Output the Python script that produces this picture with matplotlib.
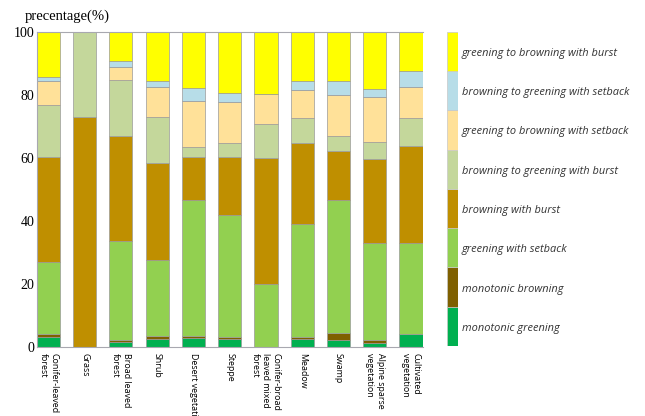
import numpy as np
import matplotlib
matplotlib.use("Agg")
import matplotlib.pyplot as plt

categories = ["Conifer-leaved\nforest", "Grass", "Broad leaved\nforest", "Shrub",
              "Desert vegetation", "Steppe", "Conifer-broad\nleaved mixed\nforest",
              "Meadow", "Swamp", "Alpine sparse\nvegetation", "Cultivated\nvegetation"]

# bottom to top of each stack
mono_greening = [3.0, 0.0, 1.3, 2.5, 2.6, 2.3, 0.0, 2.4, 2.2, 1.0, 4.0]
mono_browning = [0.9, 0.0, 0.7, 0.8, 0.8, 0.8, 0.0, 0.7, 2.2, 1.1, 0.0]
greening_setback = [22.9, 0.0, 31.7, 24.3, 43.3, 38.8, 19.9, 35.9, 42.3, 30.9, 29.0]
browning_burst = [33.5, 72.9, 33.2, 30.7, 13.6, 18.5, 40.2, 25.9, 15.6, 26.7, 30.9]
b2g_burst = [16.5, 27.1, 17.8, 14.8, 3.2, 4.3, 10.7, 7.8, 4.6, 5.3, 8.7]
g2b_setback = [7.7, 0.0, 4.2, 9.4, 14.6, 13.0, 9.6, 8.8, 13.1, 14.3, 10.0]
b2g_setback = [1.2, 0.0, 2.0, 2.0, 4.1, 2.9, 0.0, 3.0, 4.6, 2.6, 5.1]
g2b_burst = [14.3, 0.0, 9.1, 15.5, 17.8, 19.4, 19.6, 15.5, 15.4, 18.1, 12.3]

series = [mono_greening, mono_browning, greening_setback, browning_burst,
          b2g_burst, g2b_setback, b2g_setback, g2b_burst]
names = ["monotonic greening", "monotonic browning", "greening with setback",
         "browning with burst", "browning to greening with burst",
         "greening to browning with setback", "browning to greening with setback",
         "greening to browning with burst"]
colors = ["#00B050", "#7F6000", "#92D050", "#BF8F00", "#C4D79B",
          "#FFE199", "#B7DDE8", "#FFFF00"]

W, H = 645, 416
fig = plt.figure(figsize=(W / 100, H / 100), dpi=100)
ax = fig.add_axes([36.7 / W, (H - 346.5) / H, (422.7 - 36.7) / W, (346.5 - 32.3) / H])

x = np.arange(len(categories))
width = 0.64
bottom = np.zeros(len(categories))
for vals, c in zip(series, colors):
    ax.bar(x, vals, width, bottom=bottom, color=c, edgecolor="#9a9a9a", linewidth=0.5)
    bottom += np.array(vals)

ax.set_xlim(-width / 2, len(categories) - 1 + width / 2)
ax.set_ylim(0, 100)
ax.set_yticks([0, 20, 40, 60, 80, 100])
ax.set_xticks(x)
ax.set_xticklabels(categories, rotation=-90, ha="center", va="top",
                   fontsize=6.4, family="Open Sans", multialignment="left")
for lab in ax.get_yticklabels():
    lab.set_family("Liberation Serif")
    lab.set_fontsize(10)
ax.tick_params(axis="x", length=0, pad=5)
ax.tick_params(axis="y", length=0, pad=1.5)
for s in ax.spines.values():
    s.set_color("#a8a8b0")
    s.set_linewidth(0.8)
ax.spines["right"].set_visible(False)
fig.text(25 / W, 1 - 16 / H, "precentage(%)", family="Liberation Serif",
         fontsize=10.5, va="center", ha="left")

# legend drawn as stacked colour blocks
lax = fig.add_axes([446.7 / W, (H - 346) / H, 11 / W, (346 - 31.7) / H])
for i, (c, n) in enumerate(zip(colors, names)):
    lax.bar(0, 1, 1, bottom=i, color=c, edgecolor="#c8c8c8", linewidth=0.5)
    lax.text(0.85, i + 0.45, n, style="italic", family="Open Sans", fontsize=7.9,
             va="center", ha="left", color="#333333")
lax.set_xlim(-0.5, 0.5)
lax.set_ylim(0, 8)
lax.axis("off")

fig.savefig("out.png", dpi=100)
